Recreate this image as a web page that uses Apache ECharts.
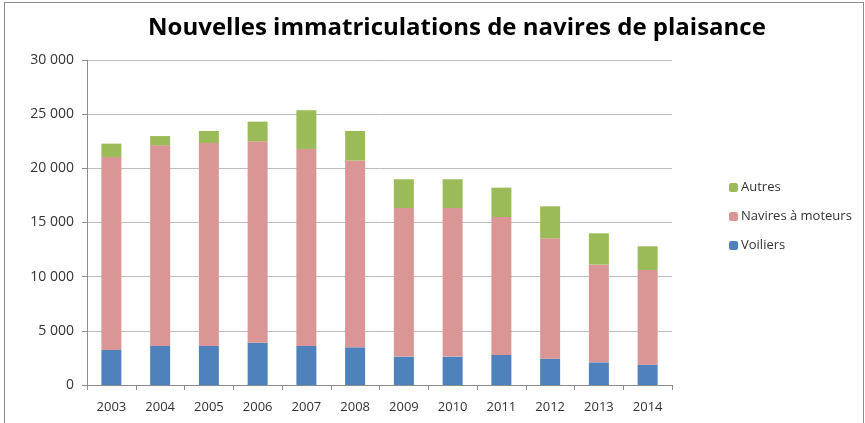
<!DOCTYPE html>
<html>
<head>
<meta charset="UTF-8"/>
<title>Nouvelles immatriculations de navires de plaisance</title>
<style>
    html, body { margin: 0; padding: 0; background: #fff; overflow: hidden; }
    #frame { position: absolute; left: 4px; top: 2px; width: 858px; height: 440px; border: 1px solid #8c8c8c; }
    #histogram { position: absolute; left: 0; top: 0; width: 865px; height: 423px; }
</style>
</head>
<body>
<div id="frame"></div>
<div id="histogram"></div>
<script type="text/javascript" src="https://cdn.jsdelivr.net/npm/echarts@6/dist/echarts.min.js"></script>
<script type="text/javascript">

    var years = ['2003', '2004', '2005', '2006', '2007', '2008', '2009', '2010', '2011', '2012', '2013', '2014'];
    var voiliers = [3230, 3600, 3600, 3900, 3600, 3480, 2620, 2620, 2770, 2430, 2090, 1880];
    var naviresMoteurs = [17820, 18520, 18740, 18590, 18190, 17230, 13720, 13720, 12740, 11110, 9020, 8740];
    var autres = [1230, 860, 1110, 1820, 3570, 2740, 2650, 2650, 2710, 2950, 2890, 2180];

    var fmt = function(v) {
        return String(v).replace(/\B(?=(\d{3})+(?!\d))/g, ' ');
    };

    var chart = echarts.init(document.getElementById('histogram'));
    chart.setOption({
        animation: false,
        textStyle: { fontFamily: 'Open Sans' },
        title: {
            text: 'Nouvelles immatriculations de navires de plaisance',
            left: 452,
            textAlign: 'center',
            top: 11,
            textStyle: { fontFamily: 'Open Sans', fontWeight: 'bold', fontSize: 24, color: '#000' }
        },
        legend: {
            orient: 'vertical',
            left: 724,
            top: 176,
            itemWidth: 9,
            itemHeight: 9,
            itemGap: 16,
            textStyle: { fontSize: 13, color: '#333', padding: [0, 0, 0, -2] },
            data: ['Autres', 'Navires à moteurs', 'Voiliers']
        },
        grid: { left: 87, right: 193, top: 60, bottom: 38 },
        xAxis: {
            type: 'category',
            data: years,
            axisLine: { lineStyle: { color: '#8c8c8c' } },
            axisTick: { show: true, length: 5, lineStyle: { color: '#8c8c8c' } },
            axisLabel: { color: '#333', fontSize: 13, margin: 16 }
        },
        yAxis: {
            type: 'value',
            min: 0,
            max: 30000,
            interval: 5000,
            axisLine: { show: true, lineStyle: { color: '#8c8c8c' } },
            axisTick: { show: true, length: 5, lineStyle: { color: '#8c8c8c' } },
            splitLine: { lineStyle: { color: '#bdbdbd' } },
            axisLabel: { color: '#333', fontSize: 14, margin: 13, formatter: fmt }
        },
        series: [
            { name: 'Voiliers', type: 'bar', stack: 't', data: voiliers, barCategoryGap: '59%', itemStyle: { color: '#4f81bd' } },
            { name: 'Navires à moteurs', type: 'bar', stack: 't', data: naviresMoteurs, itemStyle: { color: '#d99694' } },
            { name: 'Autres', type: 'bar', stack: 't', data: autres, itemStyle: { color: '#9bbb59' } }
        ]
    });
</script>
</body>
</html>
